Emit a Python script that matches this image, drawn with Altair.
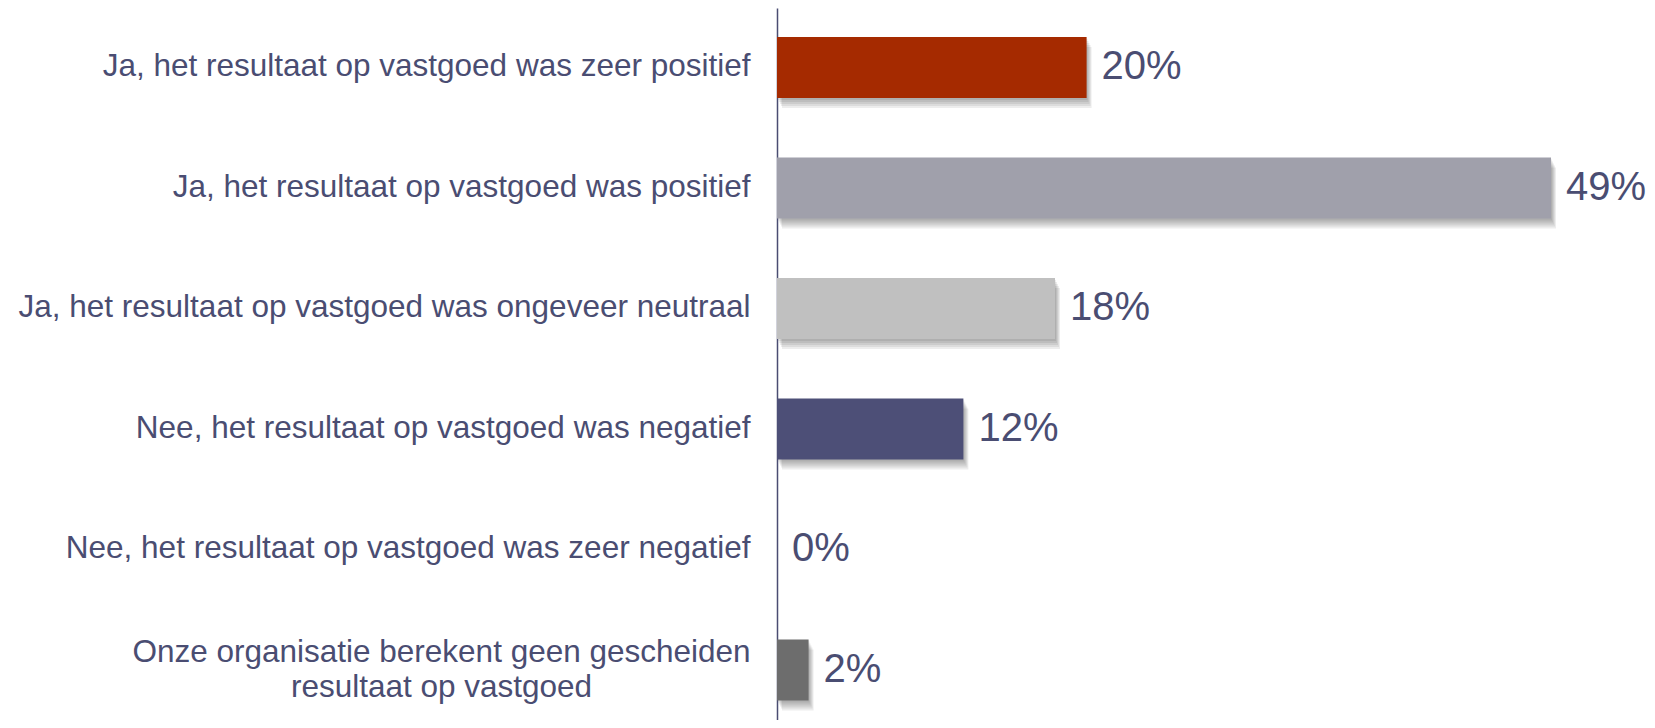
import json
import altair as alt
import pandas as pd

categories = [
    "Ja, het resultaat op vastgoed was zeer positief",
    "Ja, het resultaat op vastgoed was positief",
    "Ja, het resultaat op vastgoed was ongeveer neutraal",
    "Nee, het resultaat op vastgoed was negatief",
    "Nee, het resultaat op vastgoed was zeer negatief",
    "Onze organisatie berekent geen gescheiden resultaat op vastgoed",
]
values = [19.6, 49.0, 17.6, 11.8, 0.0, 2.0]
value_labels = ["20%", "49%", "18%", "12%", "0%", "2%"]
bar_colors = ["#A52A00", "#A0A0AB", "#C0C0C0", "#4D4F77", "#FFFFFF", "#6D6D6D"]

# two-line display for the last category
wrapped_lines = ["Onze organisatie berekent geen gescheiden", "resultaat op vastgoed"]

TEXT_COLOR = "#4A4D72"
FONT = "Arial, Liberation Sans, sans-serif"

df = pd.DataFrame({"cat": categories, "value": values, "label": value_labels})

wrapped_cat = json.dumps(categories[5])
label_expr = (
    f"datum.value == {wrapped_cat} ? "
    f"[{json.dumps(wrapped_lines[0])}, {json.dumps(wrapped_lines[1])}] : datum.label"
)
is_wrapped = f"datum.value == {wrapped_cat}"

y_enc = alt.Y(
    "cat:N",
    sort=categories,
    title=None,
    scale=alt.Scale(paddingInner=0.494, paddingOuter=0.2015, align=0.597),
    axis=alt.Axis(
        labelExpr=label_expr,
        labelFont=FONT,
        labelFontSize=31.5,
        labelColor=TEXT_COLOR,
        labelPadding={"condition": {"test": is_wrapped, "value": 336}, "value": 27},
        labelAlign={"condition": {"test": is_wrapped, "value": "center"}, "value": "right"},
        labelOffset={"condition": {"test": is_wrapped, "value": -17}, "value": 0},
        labelLimit=0,
        labelLineHeight=35,
        ticks=False,
        domainColor=TEXT_COLOR,
        domainWidth=1.5,
        grid=False,
        labelBaseline="middle",
    ),
)
x_enc = alt.X("value:Q", scale=alt.Scale(domain=[0, 54]), axis=None)

base = alt.Chart(df)

shadow_layers = []
for dx, dy in [(1, 2), (2, 4), (3, 6), (4, 8), (5, 10)]:
    shadow_layers.append(
        base.mark_bar(color="#000000", opacity=0.07, xOffset=dx, yOffset=dy).encode(
            x=x_enc, y=y_enc
        )
    )

bars = base.mark_bar().encode(
    x=x_enc,
    y=y_enc,
    color=alt.Color(
        "cat:N",
        scale=alt.Scale(domain=categories, range=bar_colors),
        legend=None,
    ),
)

texts = base.mark_text(
    align="left",
    baseline="middle",
    dx=15,
    font=FONT,
    fontSize=40,
    color=TEXT_COLOR,
).encode(x=x_enc, y=y_enc, text="label:N")

chart = (
    alt.layer(*shadow_layers, bars, texts)
    .properties(
        width=853,
        height=712,
        padding={"left": 769, "top": 0, "right": 17, "bottom": 0},
        autosize=alt.AutoSizeParams(type="none"),
        background="#FFFFFF",
    )
    .configure_view(stroke=None)
)

chart.save("out.html", embed_options={"renderer": "svg", "actions": False})
